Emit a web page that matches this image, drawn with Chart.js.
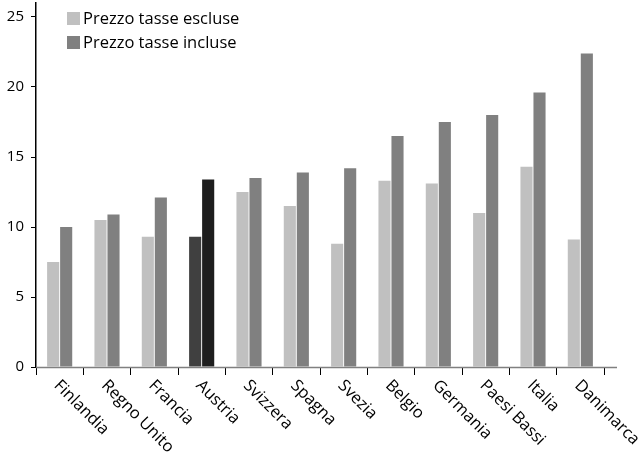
<!DOCTYPE html>
<html>
<head>
<meta charset="utf-8">
<script src="https://cdn.jsdelivr.net/npm/chart.js@4"></script>
<style>
  body { margin: 0; background: #fff; }
  #wrap { width: 643px; height: 456px; }
</style>
</head>
<body>
<div id="wrap"><canvas id="chart"></canvas></div>
<script>
var paesi = ['Finlandia','Regno Unito','Francia','Austria','Svizzera','Spagna','Svezia','Belgio','Germania','Paesi Bassi','Italia','Danimarca'];
var senzaTasse = [7.5, 10.5, 9.3, 9.3, 12.5, 11.5, 8.8, 13.3, 13.1, 11.0, 14.3, 9.1];
var conTasse = [10.0, 10.9, 12.1, 13.4, 13.5, 13.9, 14.2, 16.5, 17.5, 18.0, 19.6, 22.4];
var yTicks = [0, 5, 10, 15, 20, 25];

var font = 'Open Sans';

// Austria is highlighted in darker tones
var coloriChiari = paesi.map(p => p == 'Austria' ? '#404040' : '#c0c0c0');
var coloriScuri = paesi.map(p => p == 'Austria' ? '#1e1e1e' : '#808080');
var legendaColori = ['#c0c0c0', '#808080'];

// x labels go down to the right, chart.js can only rotate the other way
// legend is also drawn here so it can sit inside the plot
var etichette = {
  id: 'etichette',
  afterDraw(chart) {
    var ctx = chart.ctx;
    var x = chart.scales.x;
    var area = chart.chartArea;
    ctx.save();
    // x axis line, a bit longer than the last tick
    ctx.strokeStyle = '#808080';
    ctx.lineWidth = 1.5;
    ctx.beginPath();
    ctx.moveTo(area.left, area.bottom + 0.5);
    ctx.lineTo(area.right + 13, area.bottom + 0.5);
    ctx.stroke();
    ctx.fillStyle = '#000';
    ctx.font = '16.5px "' + font + '"';
    ctx.textAlign = 'left';
    ctx.textBaseline = 'middle';
    paesi.forEach(function(p, i) {
      ctx.save();
      ctx.translate(x.getPixelForValue(i) - 3, area.bottom + 16);
      ctx.rotate(Math.PI / 4);
      ctx.fillText(p, 0, 0);
      ctx.restore();
    });
    // legend
    chart.data.datasets.forEach(function(ds, i) {
      var ly = 12 + i * 24;
      ctx.fillStyle = legendaColori[i];
      ctx.fillRect(area.left + 31, ly, 13, 13);
      ctx.fillStyle = '#000';
      ctx.fillText(ds.label, area.left + 47, ly + 7);
    });
    ctx.restore();
  }
};

new Chart(document.getElementById('chart'), {
  type: 'bar',
  data: {
    labels: paesi,
    datasets: [{
      label: 'Prezzo tasse escluse',
      data: senzaTasse,
      backgroundColor: coloriChiari,
      categoryPercentage: 0.55,
      barPercentage: 0.93
    }, {
      label: 'Prezzo tasse incluse',
      data: conTasse,
      backgroundColor: coloriScuri,
      categoryPercentage: 0.55,
      barPercentage: 0.93
    }]
  },
  options: {
    responsive: true,
    maintainAspectRatio: false,
    animation: false,
    layout: { padding: { top: 3, right: 39, left: 0, bottom: 0 } },
    plugins: {
      tooltip: { enabled: false },
      legend: { display: false }
    },
    scales: {
      x: {
        grid: { drawOnChartArea: false, drawTicks: true, tickLength: 8, color: '#000', offset: true },
        border: { display: false },
        ticks: { display: false },
        afterFit: function(s) { s.height = 89; s.paddingLeft = 0; s.paddingRight = 0; }
      },
      y: {
        min: 0,
        max: 26,
        afterBuildTicks: function(s) { s.ticks = yTicks.map(v => ({ value: v })); },
        grid: { drawOnChartArea: false, tickLength: 5, color: '#000' },
        border: { display: true, color: '#000', width: 1.5 },
        ticks: { color: '#000', padding: 7, font: { family: font, size: 15 } },
        afterFit: function(s) { s.width = 36; s.paddingTop = 0; s.paddingBottom = 0; }
      }
    }
  },
  plugins: [etichette]
});
</script>
</body>
</html>
